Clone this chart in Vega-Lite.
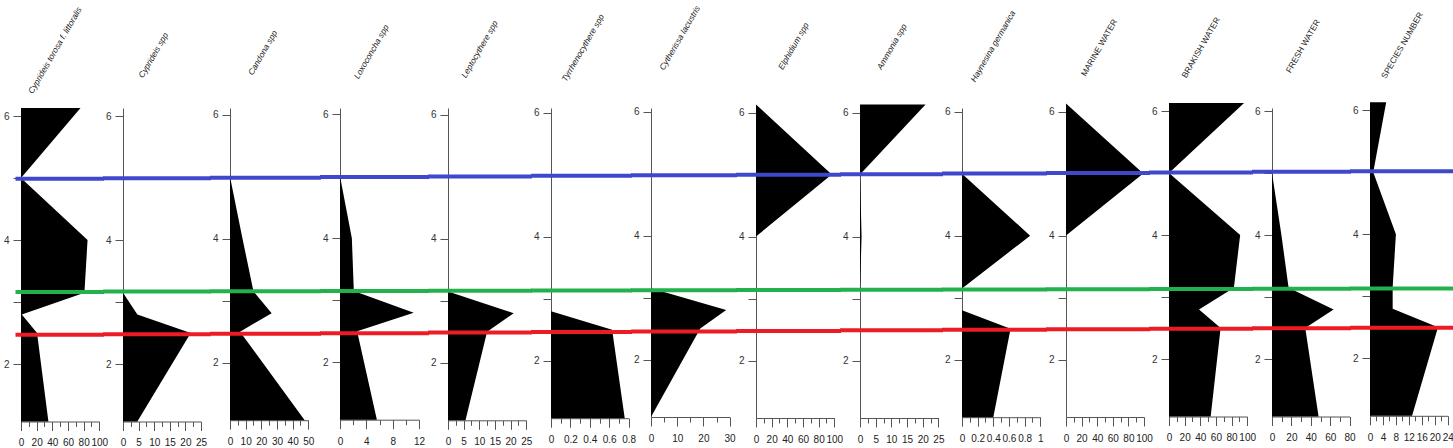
{
"$schema": "https://vega.github.io/schema/vega-lite/v6.json",
"background": "white",
"padding": {"left": 3, "top": 4, "right": 0, "bottom": 0},
"config": {"view": {"stroke": null}, "font": "Liberation Sans",
  "axis": {"domainColor": "#555", "tickColor": "#555", "labelColor": "#222", "labelFontSize": 10, "labelFont": "Liberation Sans", "grid": false},
  "axisX": {"labelFlush": false, "labelOverlap": false, "labelBound": false, "labelPadding": 7.4, "tickSize": 9, "labelExpr": "format(datum.value, '~g')"},
  "axisY": {"tickSize": 8, "labelPadding": 4, "labelColor": "#333", "labelOverlap": false}},
"datasets": {
 "counts": [
  {"taxon":"Cyprideis torosa f. littoralis","depth":6.13,"v":76},{"taxon":"Cyprideis torosa f. littoralis","depth":5.0,"v":0},{"taxon":"Cyprideis torosa f. littoralis","depth":4.0,"v":85},{"taxon":"Cyprideis torosa f. littoralis","depth":3.15,"v":81},{"taxon":"Cyprideis torosa f. littoralis","depth":2.8,"v":1},{"taxon":"Cyprideis torosa f. littoralis","depth":2.5,"v":20.5},{"taxon":"Cyprideis torosa f. littoralis","depth":1.073,"v":35},
  {"taxon":"Cyprideis spp","depth":6.13,"v":0},{"taxon":"Cyprideis spp","depth":5.0,"v":0},{"taxon":"Cyprideis spp","depth":4.0,"v":0},{"taxon":"Cyprideis spp","depth":3.15,"v":0},{"taxon":"Cyprideis spp","depth":2.8,"v":4.6},{"taxon":"Cyprideis spp","depth":2.5,"v":21.7},{"taxon":"Cyprideis spp","depth":1.073,"v":4.6},
  {"taxon":"Candona spp","depth":6.13,"v":0},{"taxon":"Candona spp","depth":5.0,"v":0},{"taxon":"Candona spp","depth":4.0,"v":8},{"taxon":"Candona spp","depth":3.15,"v":15},{"taxon":"Candona spp","depth":2.8,"v":26.6},{"taxon":"Candona spp","depth":2.5,"v":6.4},{"taxon":"Candona spp","depth":1.073,"v":47.7},
  {"taxon":"Loxoconcha spp","depth":6.13,"v":0},{"taxon":"Loxoconcha spp","depth":5.0,"v":0},{"taxon":"Loxoconcha spp","depth":4.0,"v":1.8},{"taxon":"Loxoconcha spp","depth":3.15,"v":2.1},{"taxon":"Loxoconcha spp","depth":2.8,"v":11.2},{"taxon":"Loxoconcha spp","depth":2.5,"v":2.6},{"taxon":"Loxoconcha spp","depth":1.073,"v":5.6},
  {"taxon":"Leptocythere spp","depth":6.13,"v":0},{"taxon":"Leptocythere spp","depth":5.0,"v":0},{"taxon":"Leptocythere spp","depth":4.0,"v":0},{"taxon":"Leptocythere spp","depth":3.15,"v":0},{"taxon":"Leptocythere spp","depth":2.8,"v":21},{"taxon":"Leptocythere spp","depth":2.5,"v":12.5},{"taxon":"Leptocythere spp","depth":1.073,"v":5.6},
  {"taxon":"Tyrrhenocythere spp","depth":6.13,"v":0},{"taxon":"Tyrrhenocythere spp","depth":5.0,"v":0},{"taxon":"Tyrrhenocythere spp","depth":4.0,"v":0},{"taxon":"Tyrrhenocythere spp","depth":3.15,"v":0},{"taxon":"Tyrrhenocythere spp","depth":2.8,"v":0},{"taxon":"Tyrrhenocythere spp","depth":2.5,"v":0.63},{"taxon":"Tyrrhenocythere spp","depth":1.073,"v":0.76},
  {"taxon":"Cytherissa lacustris","depth":6.13,"v":0},{"taxon":"Cytherissa lacustris","depth":5.0,"v":0},{"taxon":"Cytherissa lacustris","depth":4.0,"v":0},{"taxon":"Cytherissa lacustris","depth":3.15,"v":0},{"taxon":"Cytherissa lacustris","depth":2.8,"v":28.7},{"taxon":"Cytherissa lacustris","depth":2.5,"v":18.8},{"taxon":"Cytherissa lacustris","depth":1.073,"v":0},
  {"taxon":"Elphidium spp","depth":6.13,"v":0},{"taxon":"Elphidium spp","depth":5.0,"v":96.7},{"taxon":"Elphidium spp","depth":4.0,"v":0},{"taxon":"Elphidium spp","depth":3.15,"v":0},{"taxon":"Elphidium spp","depth":2.8,"v":0},{"taxon":"Elphidium spp","depth":2.5,"v":0},{"taxon":"Elphidium spp","depth":1.073,"v":0},
  {"taxon":"Ammonia spp","depth":6.13,"v":20.9},{"taxon":"Ammonia spp","depth":5.0,"v":0},{"taxon":"Ammonia spp","depth":4.0,"v":0.5},{"taxon":"Ammonia spp","depth":3.15,"v":0},{"taxon":"Ammonia spp","depth":2.8,"v":0},{"taxon":"Ammonia spp","depth":2.5,"v":0},{"taxon":"Ammonia spp","depth":1.073,"v":0},
  {"taxon":"Haynesina germanica","depth":6.13,"v":0},{"taxon":"Haynesina germanica","depth":5.0,"v":0},{"taxon":"Haynesina germanica","depth":4.0,"v":0.87},{"taxon":"Haynesina germanica","depth":3.15,"v":0},{"taxon":"Haynesina germanica","depth":2.8,"v":0},{"taxon":"Haynesina germanica","depth":2.5,"v":0.62},{"taxon":"Haynesina germanica","depth":1.073,"v":0.4},
  {"taxon":"MARINE WATER","depth":6.13,"v":0},{"taxon":"MARINE WATER","depth":5.0,"v":99},{"taxon":"MARINE WATER","depth":4.0,"v":0},{"taxon":"MARINE WATER","depth":3.15,"v":0},{"taxon":"MARINE WATER","depth":2.8,"v":0},{"taxon":"MARINE WATER","depth":2.5,"v":0},{"taxon":"MARINE WATER","depth":1.073,"v":0},
  {"taxon":"BRAKISH WATER","depth":6.13,"v":96},{"taxon":"BRAKISH WATER","depth":5.0,"v":0},{"taxon":"BRAKISH WATER","depth":4.0,"v":91},{"taxon":"BRAKISH WATER","depth":3.15,"v":83},{"taxon":"BRAKISH WATER","depth":2.8,"v":38.4},{"taxon":"BRAKISH WATER","depth":2.5,"v":66},{"taxon":"BRAKISH WATER","depth":1.073,"v":53.3},
  {"taxon":"FRESH WATER","depth":6.13,"v":0},{"taxon":"FRESH WATER","depth":5.0,"v":0},{"taxon":"FRESH WATER","depth":4.0,"v":9.7},{"taxon":"FRESH WATER","depth":3.15,"v":17.1},{"taxon":"FRESH WATER","depth":2.8,"v":63.5},{"taxon":"FRESH WATER","depth":2.5,"v":34.3},{"taxon":"FRESH WATER","depth":1.073,"v":48},
  {"taxon":"SPECIES NUMBER","depth":6.13,"v":5},{"taxon":"SPECIES NUMBER","depth":5.0,"v":1},{"taxon":"SPECIES NUMBER","depth":4.0,"v":8},{"taxon":"SPECIES NUMBER","depth":3.15,"v":7},{"taxon":"SPECIES NUMBER","depth":2.8,"v":7},{"taxon":"SPECIES NUMBER","depth":2.5,"v":21},{"taxon":"SPECIES NUMBER","depth":1.073,"v":13}
 ],
 "bounds": [
  {"taxon":"Cyprideis torosa f. littoralis","line":"blue","depth":4.987},{"taxon":"Cyprideis torosa f. littoralis","line":"green","depth":3.163},{"taxon":"Cyprideis torosa f. littoralis","line":"red","depth":2.471},
  {"taxon":"Cyprideis spp","line":"blue","depth":4.997},{"taxon":"Cyprideis spp","line":"green","depth":3.168},{"taxon":"Cyprideis spp","line":"red","depth":2.479},
  {"taxon":"Candona spp","line":"blue","depth":4.985},{"taxon":"Candona spp","line":"green","depth":3.152},{"taxon":"Candona spp","line":"red","depth":2.468},
  {"taxon":"Loxoconcha spp","line":"blue","depth":4.987},{"taxon":"Loxoconcha spp","line":"green","depth":3.148},{"taxon":"Loxoconcha spp","line":"red","depth":2.469},
  {"taxon":"Leptocythere spp","line":"blue","depth":5.006},{"taxon":"Leptocythere spp","line":"green","depth":3.161},{"taxon":"Leptocythere spp","line":"red","depth":2.489},
  {"taxon":"Tyrrhenocythere spp","line":"blue","depth":4.982},{"taxon":"Tyrrhenocythere spp","line":"green","depth":3.132},{"taxon":"Tyrrhenocythere spp","line":"red","depth":2.463},
  {"taxon":"Cytherissa lacustris","line":"blue","depth":4.971},{"taxon":"Cytherissa lacustris","line":"green","depth":3.116},{"taxon":"Cytherissa lacustris","line":"red","depth":2.453},
  {"taxon":"Elphidium spp","line":"blue","depth":4.997},{"taxon":"Elphidium spp","line":"green","depth":3.137},{"taxon":"Elphidium spp","line":"red","depth":2.477},
  {"taxon":"Ammonia spp","line":"blue","depth":5.006},{"taxon":"Ammonia spp","line":"green","depth":3.142},{"taxon":"Ammonia spp","line":"red","depth":2.487},
  {"taxon":"Haynesina germanica","line":"blue","depth":5.003},{"taxon":"Haynesina germanica","line":"green","depth":3.132},{"taxon":"Haynesina germanica","line":"red","depth":2.484},
  {"taxon":"MARINE WATER","line":"blue","depth":5.008},{"taxon":"MARINE WATER","line":"green","depth":3.134},{"taxon":"MARINE WATER","line":"red","depth":2.489},
  {"taxon":"BRAKISH WATER","line":"blue","depth":5.010},{"taxon":"BRAKISH WATER","line":"green","depth":3.131},{"taxon":"BRAKISH WATER","line":"red","depth":2.490},
  {"taxon":"FRESH WATER","line":"blue","depth":5.019},{"taxon":"FRESH WATER","line":"green","depth":3.134},{"taxon":"FRESH WATER","line":"red","depth":2.498},
  {"taxon":"SPECIES NUMBER","line":"blue","depth":5.016},{"taxon":"SPECIES NUMBER","line":"green","depth":3.127},{"taxon":"SPECIES NUMBER","line":"red","depth":2.495}
 ]
},
"bounds": "flush",
"spacing": 19,
"resolve": {"scale": {"x": "independent", "y": "independent"}, "axis": {"x": "independent", "y": "independent"}},
"hconcat": [
 {"width": 83, "height": 313.5,
  "title": {"text": "Cyprideis torosa f. littoralis", "anchor": "start", "frame": "group", "angle": -60, "align": "center", "baseline": "middle", "dx": 16.9, "dy": 29.27, "offset": -31.5, "fontSize": 8.4, "fontStyle": "italic", "fontWeight": "normal", "color": "#222"},
  "resolve": {"axis": {"x": "independent"}},
  "layer": [
   {"data": {"name": "counts"}, "transform": [{"filter": "datum.taxon === 'Cyprideis torosa f. littoralis'"}],
    "mark": {"type": "area", "orient": "horizontal", "color": "black"},
    "encoding": {
     "y": {"field": "depth", "type": "quantitative", "scale": {"domain": [1.073, 6.1295], "nice": false, "zero": false}, "axis": {"title": null, "values": [2,3,4,5,6], "labelExpr": "datum.value % 2 == 0 ? format(datum.value, 'd') : ''"}},
     "x": {"field": "v", "type": "quantitative", "stack": null, "scale": {"domain": [0, 100], "range": [0, 78.3], "nice": false}, "axis": {"orient": "bottom", "title": null, "values": [0,20,40,60,80,100], "labelOverlap": false}}}},
   {"data": {"name": "bounds"}, "transform": [{"filter": "datum.taxon === 'Cyprideis torosa f. littoralis'"}],
    "mark": {"type": "rule", "strokeWidth": 4},
    "encoding": {"y": {"field": "depth", "type": "quantitative"}, "x": {"datum": -7.0, "type": "quantitative", "axis": {"orient": "bottom", "title": null, "values": [10,30,50,70,90], "labels": false, "domain": false, "tickSize": 5}}, "x2": {"datum": 106.0},
     "color": {"field": "line", "type": "nominal", "scale": {"domain": ["blue","green","red"], "range": ["#3F48CC","#22B14C","#ED1C24"]}, "legend": null}}}
  ]},
 {"width": 88, "height": 313.5,
  "title": {"text": "Cyprideis spp", "anchor": "start", "frame": "group", "angle": -60, "align": "center", "baseline": "middle", "dx": 15.1, "dy": 26.15, "offset": 4.7, "fontSize": 8.4, "fontStyle": "italic", "fontWeight": "normal", "color": "#222"},
  "resolve": {"axis": {"x": "independent"}},
  "layer": [
   {"data": {"name": "counts"}, "transform": [{"filter": "datum.taxon === 'Cyprideis spp'"}],
    "mark": {"type": "area", "orient": "horizontal", "color": "black"},
    "encoding": {
     "y": {"field": "depth", "type": "quantitative", "scale": {"domain": [1.073, 6.1295], "nice": false, "zero": false}, "axis": {"title": null, "values": [2,3,4,5,6], "labelExpr": "datum.value % 2 == 0 ? format(datum.value, 'd') : ''"}},
     "x": {"field": "v", "type": "quantitative", "stack": null, "scale": {"domain": [0, 25], "range": [0, 78], "nice": false}, "axis": {"orient": "bottom", "title": null, "values": [0,5,10,15,20,25], "labelOverlap": false}}}},
   {"data": {"name": "bounds"}, "transform": [{"filter": "datum.taxon === 'Cyprideis spp'"}],
    "mark": {"type": "rule", "strokeWidth": 4},
    "encoding": {"y": {"field": "depth", "type": "quantitative"}, "x": {"datum": -6.41, "type": "quantitative", "axis": {"orient": "bottom", "title": null, "values": [2.5,7.5,12.5,17.5,22.5], "labels": false, "domain": false, "tickSize": 5}}, "x2": {"datum": 28.21},
     "color": {"field": "line", "type": "nominal", "scale": {"domain": ["blue","green","red"], "range": ["#3F48CC","#22B14C","#ED1C24"]}, "legend": null}}}
  ]},
 {"width": 91, "height": 312.2,
  "title": {"text": "Candona spp", "anchor": "start", "frame": "group", "angle": -60, "align": "center", "baseline": "middle", "dx": 16.25, "dy": 28.15, "offset": 6.7, "fontSize": 8.4, "fontStyle": "italic", "fontWeight": "normal", "color": "#222"},
  "resolve": {"axis": {"x": "independent"}},
  "layer": [
   {"data": {"name": "counts"}, "transform": [{"filter": "datum.taxon === 'Candona spp'"}],
    "mark": {"type": "area", "orient": "horizontal", "color": "black"},
    "encoding": {
     "y": {"field": "depth", "type": "quantitative", "scale": {"domain": [1.073, 6.1085], "nice": false, "zero": false}, "axis": {"title": null, "values": [2,3,4,5,6], "labelExpr": "datum.value % 2 == 0 ? format(datum.value, 'd') : ''"}},
     "x": {"field": "v", "type": "quantitative", "stack": null, "scale": {"domain": [0, 50], "range": [0, 78.3], "nice": false}, "axis": {"orient": "bottom", "title": null, "values": [0,10,20,30,40,50], "labelOverlap": false}}}},
   {"data": {"name": "bounds"}, "transform": [{"filter": "datum.taxon === 'Candona spp'"}],
    "mark": {"type": "rule", "strokeWidth": 4},
    "encoding": {"y": {"field": "depth", "type": "quantitative"}, "x": {"datum": -12.77, "type": "quantitative", "axis": {"orient": "bottom", "title": null, "values": [5,15,25,35,45], "labels": false, "domain": false, "tickSize": 5}}, "x2": {"datum": 58.11},
     "color": {"field": "line", "type": "nominal", "scale": {"domain": ["blue","green","red"], "range": ["#3F48CC","#22B14C","#ED1C24"]}, "legend": null}}}
  ]},
 {"width": 89, "height": 311.7,
  "title": {"text": "Loxoconcha spp", "anchor": "start", "frame": "group", "angle": -60, "align": "center", "baseline": "middle", "dx": 15.6, "dy": 27.02, "offset": -2.5, "fontSize": 8.4, "fontStyle": "italic", "fontWeight": "normal", "color": "#222"},
  "resolve": {"axis": {"x": "independent"}},
  "layer": [
   {"data": {"name": "counts"}, "transform": [{"filter": "datum.taxon === 'Loxoconcha spp'"}],
    "mark": {"type": "area", "orient": "horizontal", "color": "black"},
    "encoding": {
     "y": {"field": "depth", "type": "quantitative", "scale": {"domain": [1.073, 6.1004], "nice": false, "zero": false}, "axis": {"title": null, "values": [2,3,4,5,6], "labelExpr": "datum.value % 2 == 0 ? format(datum.value, 'd') : ''"}},
     "x": {"field": "v", "type": "quantitative", "stack": null, "scale": {"domain": [0, 12], "range": [0, 79], "nice": false}, "axis": {"orient": "bottom", "title": null, "values": [0,4,8,12], "labelOverlap": false}}}},
   {"data": {"name": "bounds"}, "transform": [{"filter": "datum.taxon === 'Loxoconcha spp'"}],
    "mark": {"type": "rule", "strokeWidth": 4},
    "encoding": {"y": {"field": "depth", "type": "quantitative"}, "x": {"datum": -3.04, "type": "quantitative", "axis": {"orient": "bottom", "title": null, "values": [2,6,10], "labels": false, "domain": false, "tickSize": 5}}, "x2": {"datum": 13.52},
     "color": {"field": "line", "type": "nominal", "scale": {"domain": ["blue","green","red"], "range": ["#3F48CC","#22B14C","#ED1C24"]}, "legend": null}}}
  ]},
 {"width": 84, "height": 312.3,
  "title": {"text": "Leptocythere spp", "anchor": "start", "frame": "group", "angle": -60, "align": "center", "baseline": "middle", "dx": 15.75, "dy": 27.28, "offset": -2.2, "fontSize": 8.4, "fontStyle": "italic", "fontWeight": "normal", "color": "#222"},
  "resolve": {"axis": {"x": "independent"}},
  "layer": [
   {"data": {"name": "counts"}, "transform": [{"filter": "datum.taxon === 'Leptocythere spp'"}],
    "mark": {"type": "area", "orient": "horizontal", "color": "black"},
    "encoding": {
     "y": {"field": "depth", "type": "quantitative", "scale": {"domain": [1.073, 6.1101], "nice": false, "zero": false}, "axis": {"title": null, "values": [2,3,4,5,6], "labelExpr": "datum.value % 2 == 0 ? format(datum.value, 'd') : ''"}},
     "x": {"field": "v", "type": "quantitative", "stack": null, "scale": {"domain": [0, 25], "range": [0, 78.2], "nice": false}, "axis": {"orient": "bottom", "title": null, "values": [0,5,10,15,20,25], "labelOverlap": false}}}},
   {"data": {"name": "bounds"}, "transform": [{"filter": "datum.taxon === 'Leptocythere spp'"}],
    "mark": {"type": "rule", "strokeWidth": 4},
    "encoding": {"y": {"field": "depth", "type": "quantitative"}, "x": {"datum": -6.39, "type": "quantitative", "axis": {"orient": "bottom", "title": null, "values": [2.5,7.5,12.5,17.5,22.5], "labels": false, "domain": false, "tickSize": 5}}, "x2": {"datum": 26.85},
     "color": {"field": "line", "type": "nominal", "scale": {"domain": ["blue","green","red"], "range": ["#3F48CC","#22B14C","#ED1C24"]}, "legend": null}}}
  ]},
 {"width": 81, "height": 310.2,
  "title": {"text": "Tyrrhenocythere spp", "anchor": "start", "frame": "group", "angle": -60, "align": "center", "baseline": "middle", "dx": 15.9, "dy": 27.54, "offset": -13.2, "fontSize": 8.4, "fontStyle": "italic", "fontWeight": "normal", "color": "#222"},
  "resolve": {"axis": {"x": "independent"}},
  "layer": [
   {"data": {"name": "counts"}, "transform": [{"filter": "datum.taxon === 'Tyrrhenocythere spp'"}],
    "mark": {"type": "area", "orient": "horizontal", "color": "black"},
    "encoding": {
     "y": {"field": "depth", "type": "quantitative", "scale": {"domain": [1.073, 6.0762], "nice": false, "zero": false}, "axis": {"title": null, "values": [2,3,4,5,6], "labelExpr": "datum.value % 2 == 0 ? format(datum.value, 'd') : ''"}},
     "x": {"field": "v", "type": "quantitative", "stack": null, "scale": {"domain": [0, 0.8], "range": [0, 77.6], "nice": false}, "axis": {"orient": "bottom", "title": null, "values": [0,0.2,0.4,0.6,0.8], "labelOverlap": false}}}},
   {"data": {"name": "bounds"}, "transform": [{"filter": "datum.taxon === 'Tyrrhenocythere spp'"}],
    "mark": {"type": "rule", "strokeWidth": 4},
    "encoding": {"y": {"field": "depth", "type": "quantitative"}, "x": {"datum": -0.206, "type": "quantitative", "axis": {"orient": "bottom", "title": null, "values": [0.1,0.3,0.5,0.7], "labels": false, "domain": false, "tickSize": 5}}, "x2": {"datum": 0.835},
     "color": {"field": "line", "type": "nominal", "scale": {"domain": ["blue","green","red"], "range": ["#3F48CC","#22B14C","#ED1C24"]}, "legend": null}}}
  ]},
 {"width": 86, "height": 309,
  "title": {"text": "Cytherissa lacustris", "anchor": "start", "frame": "group", "angle": -60, "align": "center", "baseline": "middle", "dx": 14.3, "dy": 24.77, "offset": -1.3, "fontSize": 8.4, "fontStyle": "italic", "fontWeight": "normal", "color": "#222"},
  "resolve": {"axis": {"x": "independent"}},
  "layer": [
   {"data": {"name": "counts"}, "transform": [{"filter": "datum.taxon === 'Cytherissa lacustris'"}],
    "mark": {"type": "area", "orient": "horizontal", "color": "black"},
    "encoding": {
     "y": {"field": "depth", "type": "quantitative", "scale": {"domain": [1.073, 6.0569], "nice": false, "zero": false}, "axis": {"title": null, "values": [2,3,4,5,6], "labelExpr": "datum.value % 2 == 0 ? format(datum.value, 'd') : ''"}},
     "x": {"field": "v", "type": "quantitative", "stack": null, "scale": {"domain": [0, 30], "range": [0, 78.6], "nice": false}, "axis": {"orient": "bottom", "title": null, "values": [0,10,20,30], "labelOverlap": false}}}},
   {"data": {"name": "bounds"}, "transform": [{"filter": "datum.taxon === 'Cytherissa lacustris'"}],
    "mark": {"type": "rule", "strokeWidth": 4},
    "encoding": {"y": {"field": "depth", "type": "quantitative"}, "x": {"datum": -7.63, "type": "quantitative", "axis": {"orient": "bottom", "title": null, "values": [5,15,25], "labels": false, "domain": false, "tickSize": 5}}, "x2": {"datum": 32.82},
     "color": {"field": "line", "type": "nominal", "scale": {"domain": ["blue","green","red"], "range": ["#3F48CC","#22B14C","#ED1C24"]}, "legend": null}}}
  ]},
 {"width": 85, "height": 310,
  "title": {"text": "Elphidium spp", "anchor": "start", "frame": "group", "angle": -60, "align": "center", "baseline": "middle", "dx": 18.65, "dy": 32.3, "offset": 8.8, "fontSize": 8.4, "fontStyle": "italic", "fontWeight": "normal", "color": "#222"},
  "resolve": {"axis": {"x": "independent"}},
  "layer": [
   {"data": {"name": "counts"}, "transform": [{"filter": "datum.taxon === 'Elphidium spp'"}],
    "mark": {"type": "area", "orient": "horizontal", "color": "black"},
    "encoding": {
     "y": {"field": "depth", "type": "quantitative", "scale": {"domain": [1.073, 6.073], "nice": false, "zero": false}, "axis": {"title": null, "values": [2,3,4,5,6], "labelExpr": "datum.value % 2 == 0 ? format(datum.value, 'd') : ''"}},
     "x": {"field": "v", "type": "quantitative", "stack": null, "scale": {"domain": [0, 100], "range": [0, 78.3], "nice": false}, "axis": {"orient": "bottom", "title": null, "values": [0,20,40,60,80,100], "labelOverlap": false}}}},
   {"data": {"name": "bounds"}, "transform": [{"filter": "datum.taxon === 'Elphidium spp'"}],
    "mark": {"type": "rule", "strokeWidth": 4},
    "encoding": {"y": {"field": "depth", "type": "quantitative"}, "x": {"datum": -25.54, "type": "quantitative", "axis": {"orient": "bottom", "title": null, "values": [10,30,50,70,90], "labels": false, "domain": false, "tickSize": 5}}, "x2": {"datum": 108.56},
     "color": {"field": "line", "type": "nominal", "scale": {"domain": ["blue","green","red"], "range": ["#3F48CC","#22B14C","#ED1C24"]}, "legend": null}}}
  ]},
 {"width": 83, "height": 310,
  "title": {"text": "Ammonia spp", "anchor": "start", "frame": "group", "angle": -60, "align": "center", "baseline": "middle", "dx": 15.85, "dy": 27.45, "offset": 9.4, "fontSize": 8.4, "fontStyle": "italic", "fontWeight": "normal", "color": "#222"},
  "resolve": {"axis": {"x": "independent"}},
  "layer": [
   {"data": {"name": "counts"}, "transform": [{"filter": "datum.taxon === 'Ammonia spp'"}],
    "mark": {"type": "area", "orient": "horizontal", "color": "black"},
    "encoding": {
     "y": {"field": "depth", "type": "quantitative", "scale": {"domain": [1.073, 6.073], "nice": false, "zero": false}, "axis": {"title": null, "values": [2,3,4,5,6], "labelExpr": "datum.value % 2 == 0 ? format(datum.value, 'd') : ''"}},
     "x": {"field": "v", "type": "quantitative", "stack": null, "scale": {"domain": [0, 25], "range": [0, 78.4], "nice": false}, "axis": {"orient": "bottom", "title": null, "values": [0,5,10,15,20,25], "labelOverlap": false}}}},
   {"data": {"name": "bounds"}, "transform": [{"filter": "datum.taxon === 'Ammonia spp'"}],
    "mark": {"type": "rule", "strokeWidth": 4},
    "encoding": {"y": {"field": "depth", "type": "quantitative"}, "x": {"datum": -6.38, "type": "quantitative", "axis": {"orient": "bottom", "title": null, "values": [2.5,7.5,12.5,17.5,22.5], "labels": false, "domain": false, "tickSize": 5}}, "x2": {"datum": 26.47},
     "color": {"field": "line", "type": "nominal", "scale": {"domain": ["blue","green","red"], "range": ["#3F48CC","#22B14C","#ED1C24"]}, "legend": null}}}
  ]},
 {"width": 85, "height": 309.2,
  "title": {"text": "Haynesina germanica", "anchor": "start", "frame": "group", "angle": -60, "align": "center", "baseline": "middle", "dx": 15.4, "dy": 26.67, "offset": -16.9, "fontSize": 8.4, "fontStyle": "italic", "fontWeight": "normal", "color": "#222"},
  "resolve": {"axis": {"x": "independent"}},
  "layer": [
   {"data": {"name": "counts"}, "transform": [{"filter": "datum.taxon === 'Haynesina germanica'"}],
    "mark": {"type": "area", "orient": "horizontal", "color": "black"},
    "encoding": {
     "y": {"field": "depth", "type": "quantitative", "scale": {"domain": [1.073, 6.0601], "nice": false, "zero": false}, "axis": {"title": null, "values": [2,3,4,5,6], "labelExpr": "datum.value % 2 == 0 ? format(datum.value, 'd') : ''"}},
     "x": {"field": "v", "type": "quantitative", "stack": null, "scale": {"domain": [0, 1], "range": [0, 78.3], "nice": false}, "axis": {"orient": "bottom", "title": null, "values": [0,0.2,0.4,0.6,0.8,1], "labelOverlap": false}}}},
   {"data": {"name": "bounds"}, "transform": [{"filter": "datum.taxon === 'Haynesina germanica'"}],
    "mark": {"type": "rule", "strokeWidth": 4},
    "encoding": {"y": {"field": "depth", "type": "quantitative"}, "x": {"datum": -0.2554, "type": "quantitative", "axis": {"orient": "bottom", "title": null, "values": [0.1,0.3,0.5,0.7,0.9], "labels": false, "domain": false, "tickSize": 5}}, "x2": {"datum": 1.0856},
     "color": {"field": "line", "type": "nominal", "scale": {"domain": ["blue","green","red"], "range": ["#3F48CC","#22B14C","#ED1C24"]}, "legend": null}}}
  ]},
 {"width": 84, "height": 309,
  "title": {"text": "MARINE WATER", "anchor": "start", "frame": "group", "angle": -60, "align": "center", "baseline": "middle", "dx": 16.5, "dy": 28.58, "offset": -3.8, "fontSize": 8.4, "fontStyle": "normal", "fontWeight": "normal", "color": "#222"},
  "resolve": {"axis": {"x": "independent"}},
  "layer": [
   {"data": {"name": "counts"}, "transform": [{"filter": "datum.taxon === 'MARINE WATER'"}],
    "mark": {"type": "area", "orient": "horizontal", "color": "black"},
    "encoding": {
     "y": {"field": "depth", "type": "quantitative", "scale": {"domain": [1.073, 6.0569], "nice": false, "zero": false}, "axis": {"title": null, "values": [2,3,4,5,6], "labelExpr": "datum.value % 2 == 0 ? format(datum.value, 'd') : ''"}},
     "x": {"field": "v", "type": "quantitative", "stack": null, "scale": {"domain": [0, 100], "range": [0, 78], "nice": false}, "axis": {"orient": "bottom", "title": null, "values": [0,20,40,60,80,100], "labelOverlap": false}}}},
   {"data": {"name": "bounds"}, "transform": [{"filter": "datum.taxon === 'MARINE WATER'"}],
    "mark": {"type": "rule", "strokeWidth": 4},
    "encoding": {"y": {"field": "depth", "type": "quantitative"}, "x": {"datum": -25.64, "type": "quantitative", "axis": {"orient": "bottom", "title": null, "values": [10,30,50,70,90], "labels": false, "domain": false, "tickSize": 5}}, "x2": {"datum": 107.69},
     "color": {"field": "line", "type": "nominal", "scale": {"domain": ["blue","green","red"], "range": ["#3F48CC","#22B14C","#ED1C24"]}, "legend": null}}}
  ]},
 {"width": 84, "height": 308.5,
  "title": {"text": "BRAKISH WATER", "anchor": "start", "frame": "group", "angle": -60, "align": "center", "baseline": "middle", "dx": 15.85, "dy": 27.45, "offset": -7.9, "fontSize": 8.4, "fontStyle": "normal", "fontWeight": "normal", "color": "#222"},
  "resolve": {"axis": {"x": "independent"}},
  "layer": [
   {"data": {"name": "counts"}, "transform": [{"filter": "datum.taxon === 'BRAKISH WATER'"}],
    "mark": {"type": "area", "orient": "horizontal", "color": "black"},
    "encoding": {
     "y": {"field": "depth", "type": "quantitative", "scale": {"domain": [1.073, 6.0488], "nice": false, "zero": false}, "axis": {"title": null, "values": [2,3,4,5,6], "labelExpr": "datum.value % 2 == 0 ? format(datum.value, 'd') : ''"}},
     "x": {"field": "v", "type": "quantitative", "stack": null, "scale": {"domain": [0, 100], "range": [0, 78.2], "nice": false}, "axis": {"orient": "bottom", "title": null, "values": [0,20,40,60,80,100], "labelOverlap": false}}}},
   {"data": {"name": "bounds"}, "transform": [{"filter": "datum.taxon === 'BRAKISH WATER'"}],
    "mark": {"type": "rule", "strokeWidth": 4},
    "encoding": {"y": {"field": "depth", "type": "quantitative"}, "x": {"datum": -25.58, "type": "quantitative", "axis": {"orient": "bottom", "title": null, "values": [10,30,50,70,90], "labels": false, "domain": false, "tickSize": 5}}, "x2": {"datum": 107.42},
     "color": {"field": "line", "type": "nominal", "scale": {"domain": ["blue","green","red"], "range": ["#3F48CC","#22B14C","#ED1C24"]}, "legend": null}}}
  ]},
 {"width": 79, "height": 308.5,
  "title": {"text": "FRESH WATER", "anchor": "start", "frame": "group", "angle": -60, "align": "center", "baseline": "middle", "dx": 15.4, "dy": 26.67, "offset": 0.9, "fontSize": 8.4, "fontStyle": "normal", "fontWeight": "normal", "color": "#222"},
  "resolve": {"axis": {"x": "independent"}},
  "layer": [
   {"data": {"name": "counts"}, "transform": [{"filter": "datum.taxon === 'FRESH WATER'"}],
    "mark": {"type": "area", "orient": "horizontal", "color": "black"},
    "encoding": {
     "y": {"field": "depth", "type": "quantitative", "scale": {"domain": [1.073, 6.0488], "nice": false, "zero": false}, "axis": {"title": null, "values": [2,3,4,5,6], "labelExpr": "datum.value % 2 == 0 ? format(datum.value, 'd') : ''"}},
     "x": {"field": "v", "type": "quantitative", "stack": null, "scale": {"domain": [0, 80], "range": [0, 77.6], "nice": false}, "axis": {"orient": "bottom", "title": null, "values": [0,20,40,60,80], "labelOverlap": false}}}},
   {"data": {"name": "bounds"}, "transform": [{"filter": "datum.taxon === 'FRESH WATER'"}],
    "mark": {"type": "rule", "strokeWidth": 4},
    "encoding": {"y": {"field": "depth", "type": "quantitative"}, "x": {"datum": -20.62, "type": "quantitative", "axis": {"orient": "bottom", "title": null, "values": [10,30,50,70], "labels": false, "domain": false, "tickSize": 5}}, "x2": {"datum": 81.44},
     "color": {"field": "line", "type": "nominal", "scale": {"domain": ["blue","green","red"], "range": ["#3F48CC","#22B14C","#ED1C24"]}, "legend": null}}}
  ]},
 {"width": 83, "height": 307.8,
  "title": {"text": "SPECIES NUMBER", "anchor": "start", "frame": "group", "angle": -60, "align": "center", "baseline": "middle", "dx": 16, "dy": 27.71, "offset": -12, "fontSize": 8.4, "fontStyle": "normal", "fontWeight": "normal", "color": "#222"},
  "resolve": {"axis": {"x": "independent"}},
  "layer": [
   {"data": {"name": "counts"}, "transform": [{"filter": "datum.taxon === 'SPECIES NUMBER'"}],
    "mark": {"type": "area", "orient": "horizontal", "color": "black"},
    "encoding": {
     "y": {"field": "depth", "type": "quantitative", "scale": {"domain": [1.073, 6.0375], "nice": false, "zero": false}, "axis": {"title": null, "values": [2,3,4,5,6], "labelExpr": "datum.value % 2 == 0 ? format(datum.value, 'd') : ''"}},
     "x": {"field": "v", "type": "quantitative", "stack": null, "scale": {"domain": [0, 24], "range": [0, 77.7], "nice": false}, "axis": {"orient": "bottom", "title": null, "values": [0,4,8,12,16,20,24], "labelOverlap": false}}}},
   {"data": {"name": "bounds"}, "transform": [{"filter": "datum.taxon === 'SPECIES NUMBER'"}],
    "mark": {"type": "rule", "strokeWidth": 4},
    "encoding": {"y": {"field": "depth", "type": "quantitative"}, "x": {"datum": -6.18, "type": "quantitative", "axis": {"orient": "bottom", "title": null, "values": [2,6,10,14,18,22], "labels": false, "domain": false, "tickSize": 5}}, "x2": {"datum": 25.64},
     "color": {"field": "line", "type": "nominal", "scale": {"domain": ["blue","green","red"], "range": ["#3F48CC","#22B14C","#ED1C24"]}, "legend": null}}}
  ]}
]
}
